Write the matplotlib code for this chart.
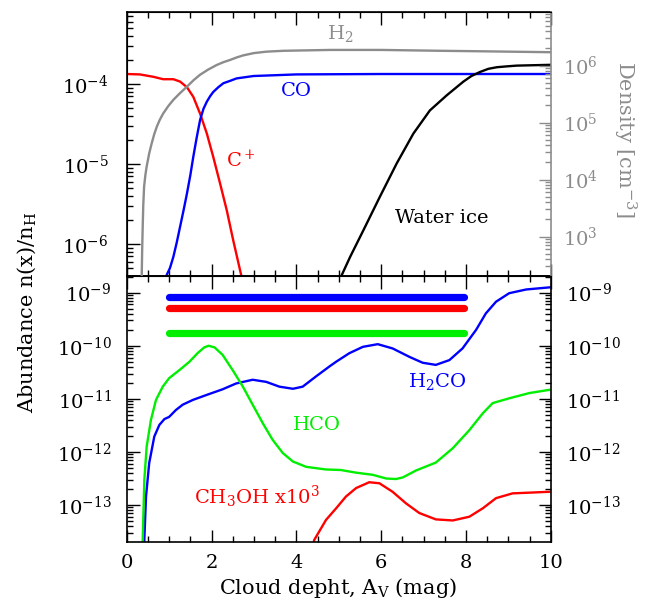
import numpy as np
import matplotlib
matplotlib.use('Agg')
import matplotlib.pyplot as plt
from matplotlib.ticker import (LogLocator, NullFormatter, LogFormatterMathtext, MultipleLocator,
                               FixedLocator)

plt.rcParams['font.family'] = ['DejaVu Serif']
plt.rcParams['mathtext.fontset'] = 'dejavuserif'

# ---------------- data (abundances as log10) ----------------
# top panel: C+, CO, water ice (left axis), H2 density (right axis)
cplus_x = [0, 0.31, 0.63, 0.86, 1.10, 1.26, 1.42, 1.57, 1.73, 1.89, 2.04, 2.20, 2.36, 2.51, 2.70, 2.76]
cplus_log = [-3.875, -3.88, -3.91, -3.94, -3.94, -3.97, -4.04, -4.16, -4.37, -4.62, -4.91, -5.24,
             -5.58, -5.95, -6.39, -6.6]

co_x = [0.90, 0.94, 1.02, 1.10, 1.18, 1.26, 1.34, 1.42, 1.50, 1.57, 1.65, 1.73, 1.81, 1.89,
        1.97, 2.04, 2.16, 2.28, 2.44, 2.59, 2.79, 2.99, 3.5, 4.0, 6.0, 8.0, 10.0]
co_log = [-6.6, -6.39, -6.30, -6.16, -5.98, -5.78, -5.58, -5.37, -5.14, -4.91, -4.67, -4.45,
          -4.31, -4.22, -4.15, -4.10, -4.04, -3.99, -3.96, -3.93, -3.915, -3.90, -3.89, -3.88,
          -3.875, -3.875, -3.875]

ice_x = [5.0, 5.07, 5.27, 5.58, 5.97, 6.37, 6.76, 7.15, 7.55, 7.94, 8.13, 8.33, 8.53, 8.73,
         8.95, 9.20, 9.6, 10.0]
ice_log = [-6.6, -6.39, -6.16, -5.83, -5.41, -4.99, -4.62, -4.33, -4.14, -3.97, -3.90, -3.85,
           -3.81, -3.79, -3.78, -3.77, -3.765, -3.76]

h2_x = [0.35, 0.354, 0.365, 0.377, 0.39, 0.41, 0.44, 0.47, 0.53, 0.59, 0.65, 0.71, 0.78, 0.86,
        0.98, 1.10, 1.26, 1.42, 1.57, 1.73, 1.92, 2.12, 2.28, 2.44, 2.60, 2.75, 3.0, 3.3, 3.7,
        4.8, 6.0, 7.4, 8.5, 10.0]
h2_dens_log = [2.0, 2.33, 2.80, 3.18, 3.55, 3.88, 4.08, 4.23, 4.46, 4.64, 4.80, 4.93, 5.05, 5.16,
               5.29, 5.40, 5.52, 5.63, 5.74, 5.84, 5.93, 6.01, 6.06, 6.10, 6.145, 6.18, 6.22,
               6.245, 6.26, 6.275, 6.275, 6.26, 6.25, 6.235]

# bottom panel: H2CO, HCO, CH3OH x10^3
h2co_x = [0.40, 0.415, 0.455, 0.53, 0.65, 0.77, 0.89, 1.00, 1.16, 1.32, 1.56, 1.87, 2.26, 2.58,
          2.97, 3.29, 3.60, 3.92, 4.15, 4.46, 4.78, 4.94, 5.25, 5.57, 5.92, 6.27, 6.67, 6.98,
          7.29, 7.61, 7.92, 8.24, 8.47, 8.71, 9.02, 9.42, 9.97, 10.0]
h2co_log = [-14.0, -13.66, -12.84, -12.21, -11.71, -11.49, -11.38, -11.34, -11.21, -11.11,
            -11.02, -10.93, -10.82, -10.71, -10.64, -10.68, -10.77, -10.81, -10.77, -10.58,
            -10.39, -10.30, -10.14, -10.02, -9.97, -10.05, -10.21, -10.32, -10.36, -10.27,
            -10.05, -9.70, -9.39, -9.17, -9.01, -8.94, -8.90, -8.90]

hco_x = [0.36, 0.377, 0.415, 0.47, 0.57, 0.69, 0.85, 1.00, 1.24, 1.48, 1.67, 1.83, 1.93, 2.07,
         2.26, 2.50, 2.74, 2.97, 3.21, 3.44, 3.68, 3.92, 4.23, 4.70, 5.05, 5.41, 5.80, 6.12,
         6.35, 6.51, 6.82, 7.29, 7.69, 8.08, 8.40, 8.63, 9.02, 9.50, 9.97, 10.0]
hco_log = [-14.0, -13.66, -12.53, -11.90, -11.40, -11.02, -10.77, -10.61, -10.46, -10.30,
           -10.14, -10.03, -10.00, -10.03, -10.17, -10.46, -10.77, -11.11, -11.46, -11.77,
           -12.02, -12.18, -12.28, -12.33, -12.34, -12.39, -12.43, -12.50, -12.51, -12.48,
           -12.35, -12.20, -11.93, -11.59, -11.27, -11.08, -10.99, -10.89, -10.83, -10.83]

ch3oh_x = [4.36, 4.42, 4.70, 4.94, 5.17, 5.41, 5.72, 5.96, 6.27, 6.59, 6.90, 7.29, 7.69, 8.08,
           8.40, 8.71, 9.10, 9.97, 10.0]
ch3oh_log = [-14.0, -13.66, -13.28, -13.06, -12.84, -12.68, -12.57, -12.59, -12.75, -12.97,
             -13.15, -13.27, -13.29, -13.22, -13.06, -12.87, -12.78, -12.75, -12.75]

# observed abundance bars (from Av = 1 to 8): H2CO, CH3OH, HCO
obs_x = [1.0, 7.96]
obs_log = [-9.087, -9.29, -9.765]
obs_colors = ['#0000ff', '#ff0000', '#00ee00']

# axis tick decades
top_left_ticks = [1e-6, 1e-5, 1e-4]
top_right_ticks = [1e3, 1e4, 1e5, 1e6]
bottom_ticks = [1e-13, 1e-12, 1e-11, 1e-10, 1e-9]

RED, BLUE, GREEN, GRAY = '#ff0000', '#0000ff', '#00ee00', '#8c8c8c'

# ---------------- figure ----------------
fig = plt.figure(figsize=(6.59, 6.07), dpi=100)
L, W = 0.1923, 0.6434
ax1 = fig.add_axes([L, 0.5453, W, 0.4349])
ax2 = fig.add_axes([L, 0.1076, W, 0.4377])
ax1r = ax1.twinx()

lw = 1.7
kw = dict(lw=lw, solid_joinstyle='round')
ax1.plot(cplus_x, 10.0 ** np.array(cplus_log), color=RED, **kw)
ax1.plot(co_x, 10.0 ** np.array(co_log), color=BLUE, **kw)
ax1.plot(ice_x, 10.0 ** np.array(ice_log), color='black', **kw)
ax1r.plot(h2_x, 10.0 ** np.array(h2_dens_log), color=GRAY, **kw)

ax2.plot(h2co_x, 10.0 ** np.array(h2co_log), color=BLUE, **kw)
ax2.plot(hco_x, 10.0 ** np.array(hco_log), color=GREEN, **kw)
ax2.plot(ch3oh_x, 10.0 ** np.array(ch3oh_log), color=RED, **kw)
for lg, c in zip(obs_log, obs_colors):
    ax2.plot(obs_x, [10.0 ** lg] * 2, color=c, lw=5.2, solid_capstyle='round')

# scales / limits
for a in (ax1, ax1r, ax2):
    a.set_yscale('log')
    a.set_xlim(0, 10)
ax1.set_ylim(10 ** -6.4, 10 ** -3.1)
ax1r.set_ylim(10 ** 2.31, 10 ** 6.94)
ax2.set_ylim(10 ** -13.69, 10 ** -8.686)

fs = 14
for a in (ax1, ax2):
    a.xaxis.set_major_locator(MultipleLocator(2))
    a.xaxis.set_minor_locator(MultipleLocator(0.5))
for a, tk in ((ax1, top_left_ticks), (ax1r, top_right_ticks), (ax2, bottom_ticks)):
    a.yaxis.set_major_locator(FixedLocator(tk))
    a.yaxis.set_minor_locator(LogLocator(base=10, subs=np.arange(2, 10), numticks=20))
    a.yaxis.set_minor_formatter(NullFormatter())
    a.yaxis.set_major_formatter(LogFormatterMathtext())

ax1.tick_params(axis='both', which='both', direction='in', top=True, bottom=True,
                left=True, right=False, labelbottom=False, labelsize=fs, width=1)
ax1.tick_params(axis='both', which='major', length=9, pad=13)
ax1.tick_params(axis='both', which='minor', length=4.5)
ax1.spines['right'].set_visible(False)

ax1r.tick_params(axis='y', which='both', direction='in', colors=GRAY, labelsize=fs, width=1)
ax1r.tick_params(axis='y', which='major', length=9, pad=9)
ax1r.tick_params(axis='y', which='minor', length=4.5)
ax1r.spines['right'].set_color(GRAY)

ax2.tick_params(axis='both', which='both', direction='in', top=True, bottom=True,
                left=True, right=True, labelright=True, labelsize=fs, width=1)
ax2.tick_params(axis='y', which='major', length=9, pad=11)
ax2.tick_params(axis='both', which='minor', length=4.5)
ax2.tick_params(axis='x', which='major', length=9, pad=9)

for a in (ax1, ax2):
    for s in a.spines.values():
        s.set_linewidth(1.2)
ax1r.spines['right'].set_linewidth(1.2)

# curve labels
ax1r.text(5.04, 10 ** 6.57, r'H$_2$', color=GRAY, fontsize=fs, ha='center', va='center')
ax1.text(3.99, 10 ** -4.09, 'CO', color=BLUE, fontsize=fs, ha='center', va='center')
ax1.text(2.70, 10 ** -4.95, r'C$^+$', color=RED, fontsize=fs, ha='center', va='center')
ax1.text(7.44, 10 ** -5.675, 'Water ice', color='black', fontsize=fs, ha='center', va='center')
ax2.text(7.32, 10 ** -10.68, r'H$_2$CO', color=BLUE, fontsize=fs, ha='center', va='center')
ax2.text(4.49, 10 ** -11.49, 'HCO', color=GREEN, fontsize=fs, ha='center', va='center')
ax2.text(3.07, 10 ** -12.85, r'CH$_3$OH x10$^3$', color=RED, fontsize=fs, ha='center', va='center')

# axis titles
fig.text(338 / 659, 1 - 588 / 607, r'Cloud depht, A$_{\rm V}$ (mag)', fontsize=15,
         ha='center', va='center')
fig.text(27 / 659, 1 - 312 / 607, r'Abundance n(x)/n$_{\rm H}$', rotation=90,
         fontsize=15, ha='center', va='center')
fig.text(625 / 659, 1 - 140 / 607, r'Density [cm$^{-3}$]', rotation=270, color=GRAY,
         fontsize=15, ha='center', va='center')

fig.savefig('out.png', dpi=100)
